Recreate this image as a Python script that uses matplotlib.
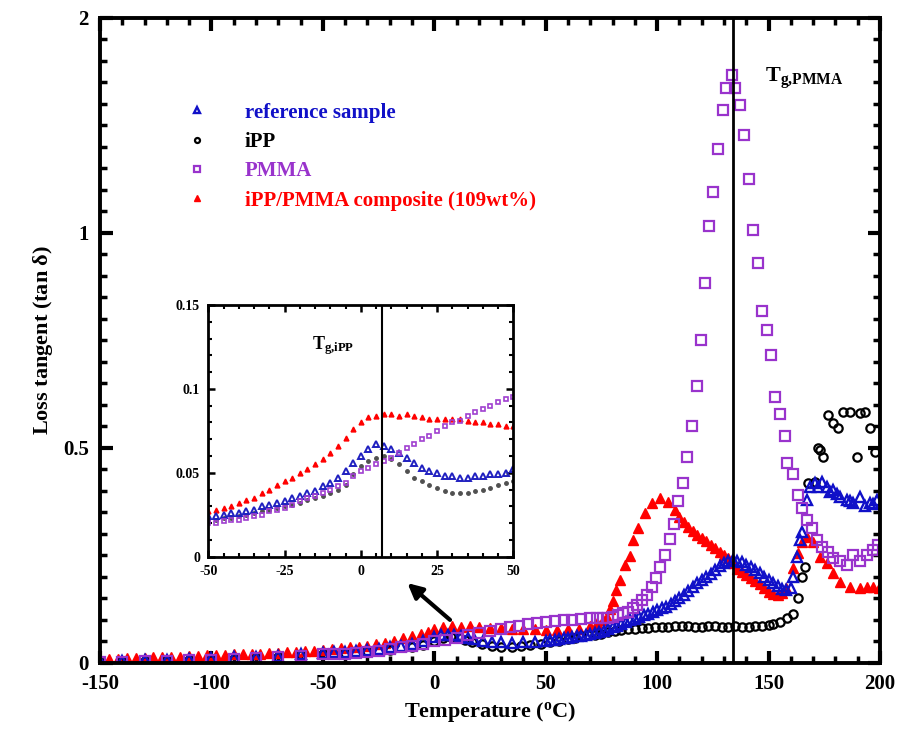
import matplotlib
matplotlib.use("Agg")
import matplotlib.pyplot as plt
from matplotlib.ticker import MultipleLocator

plt.rcParams['font.family'] = ['Liberation Serif', 'DejaVu Serif']
plt.rcParams['font.weight'] = 'bold'
plt.rcParams['axes.unicode_minus'] = False
plt.rcParams['mathtext.fontset'] = 'custom'
plt.rcParams['mathtext.rm'] = 'Liberation Serif:bold'
plt.rcParams['mathtext.bf'] = 'Liberation Serif:bold'
plt.rcParams['mathtext.it'] = 'Liberation Serif:bold'

# ---- main plot data ----
ref_T = [-150, -140, -130, -120, -110, -100, -90, -80, -70, -60, -50, -45, -40, -35, -30, -25, -20, -15,
         -10, -5, 0, 3, 6, 9, 12, 15, 18, 22, 26, 30, 35, 40, 45, 50, 52, 54, 56, 58, 60, 62, 64, 66, 68,
         70, 72, 74, 76, 78, 80, 82, 84, 86, 88, 90, 92, 94, 96, 98, 100, 102, 104, 106, 108, 110, 112, 114,
         116, 118, 120, 122, 124, 126, 128, 130, 132, 134, 136, 138, 140, 142, 144, 146, 148, 150, 152,
         154, 156, 158, 160, 161.1, 162.6, 164.1, 164.8, 167.1, 168.6, 170.8, 172, 173.8, 176.1, 177.5,
         179.0, 180.5, 182.1, 185.0, 186.5, 188.0, 191.0, 193.3, 195.5, 197, 198.5]
ref_tan = [0.004, 0.005, 0.006, 0.008, 0.010, 0.012, 0.013, 0.015, 0.017, 0.020, 0.023, 0.025, 0.026, 0.028,
           0.030, 0.033, 0.036, 0.039, 0.044, 0.051, 0.060, 0.065, 0.066, 0.065, 0.062, 0.058, 0.055, 0.052,
           0.049, 0.048, 0.047, 0.048, 0.049, 0.052, 0.053, 0.054, 0.056, 0.057, 0.058, 0.060, 0.062, 0.063,
           0.065, 0.067, 0.070, 0.072, 0.075, 0.079, 0.083, 0.087, 0.091, 0.095, 0.099, 0.103, 0.107, 0.111,
           0.115, 0.119, 0.123, 0.127, 0.131, 0.137, 0.143, 0.150, 0.158, 0.167, 0.176, 0.185, 0.193, 0.200,
           0.208, 0.217, 0.225, 0.232, 0.237, 0.240, 0.238, 0.234, 0.228, 0.223, 0.216, 0.209, 0.201, 0.193,
           0.185, 0.178, 0.172, 0.169, 0.175, 0.201, 0.247, 0.286, 0.305, 0.379, 0.410, 0.418, 0.410, 0.422,
           0.410, 0.398, 0.402, 0.392, 0.387, 0.379, 0.376, 0.371, 0.387, 0.364, 0.371, 0.369, 0.379]

ipp_T = [-150, -140, -130, -120, -110, -100, -90, -80, -70, -60, -50, -40, -30, -20, -10, -5, 0, 4, 7.4, 11,
         14, 17, 21.6, 26, 30, 35, 39, 43, 48, 52, 56, 60, 63, 66, 69, 72, 75, 78, 81, 84, 87, 90, 93, 96,
         99, 102, 105, 108, 111, 114, 117, 120, 123, 126, 129, 132, 135, 138, 141, 144, 147, 150, 152,
         155.1, 158.1, 161.1, 163.3, 164.8, 166.3, 167.8, 170.8, 172.3, 173.0, 174.6, 176.8, 179.0, 181.3,
         183.5, 186.5, 189.5, 191.0, 193.3, 195.5, 197.8]
ipp_tan = [0.003, 0.004, 0.005, 0.006, 0.007, 0.008, 0.010, 0.012, 0.015, 0.018, 0.022, 0.024, 0.027, 0.031,
           0.037, 0.042, 0.052, 0.058, 0.060, 0.057, 0.053, 0.048, 0.043, 0.040, 0.038, 0.038, 0.040, 0.042,
           0.045, 0.049, 0.052, 0.056, 0.059, 0.062, 0.064, 0.065, 0.068, 0.071, 0.074, 0.077, 0.079, 0.080,
           0.081, 0.082, 0.083, 0.084, 0.084, 0.085, 0.086, 0.085, 0.084, 0.084, 0.085, 0.085, 0.083, 0.084,
           0.085, 0.084, 0.084, 0.086, 0.086, 0.088, 0.090, 0.096, 0.104, 0.114, 0.150, 0.201, 0.224, 0.418,
           0.422, 0.499, 0.495, 0.480, 0.577, 0.557, 0.546, 0.584, 0.584, 0.480, 0.581, 0.584, 0.546, 0.491]

pmma_T = [-150, -140, -130, -120, -110, -100, -90, -80, -70, -60, -50, -45, -40, -35, -30, -25, -20, -15,
          -10, -5, 0, 5, 10, 15, 20, 25, 30, 34, 38, 42, 46, 50, 54, 58, 62, 66, 70, 73, 75.8, 78.1, 80.3,
          82.6, 84.8, 87.1, 89.3, 91.1, 93.1, 95.3, 97.6, 99.5, 101.3, 103.6, 105.8, 107.6, 109.5, 111.8,
          113.5, 115.5, 117.7, 119.5, 121.5, 123.4, 125.2, 127.4, 129.4, 130.9, 133.4, 134.9, 137.2, 139.0,
          141.3, 143.1, 145.4, 146.9, 149.4, 150.9, 152.9, 155.1, 157.4, 158.4, 161.1, 163.1, 164.8, 167.1,
          169.3, 171.6, 173.8, 176.8, 179.0, 182.1, 185.0, 188.0, 191.0, 194.0, 197.0, 199.2]
pmma_tan = [0.002, 0.003, 0.004, 0.005, 0.006, 0.008, 0.010, 0.012, 0.014, 0.017, 0.020, 0.021, 0.022, 0.024,
            0.026, 0.029, 0.032, 0.036, 0.040, 0.044, 0.050, 0.054, 0.058, 0.064, 0.069, 0.074, 0.079, 0.083,
            0.087, 0.090, 0.093, 0.095, 0.097, 0.099, 0.101, 0.103, 0.105, 0.104, 0.104, 0.104, 0.108, 0.112,
            0.116, 0.119, 0.127, 0.135, 0.147, 0.158, 0.177, 0.197, 0.223, 0.251, 0.288, 0.323, 0.377, 0.418,
            0.478, 0.552, 0.644, 0.751, 0.884, 1.016, 1.096, 1.195, 1.286, 1.337, 1.367, 1.337, 1.298, 1.227,
            1.126, 1.007, 0.930, 0.819, 0.774, 0.717, 0.618, 0.579, 0.528, 0.464, 0.440, 0.391, 0.360, 0.333,
            0.313, 0.286, 0.270, 0.259, 0.243, 0.236, 0.228, 0.251, 0.236, 0.251, 0.263, 0.274]

comp_T = [-150, -146, -142, -138, -134, -130, -126, -122, -118, -114, -110, -106, -102, -98, -94, -90, -86,
          -82, -78, -74, -70, -66, -62, -58, -54, -50, -46, -42, -38, -34, -30, -26, -22, -18, -14, -10, -6,
          -3, 0, 4, 8, 12, 16, 20, 25, 30, 35, 40, 45, 50, 55, 60, 65, 70, 73, 75.5, 77.4, 78.8, 80.0, 81.6,
          83.3, 85.6, 87.8, 89.3, 91.5, 94.5, 97.5, 101.3, 105.0, 108, 110, 112, 114, 116, 118, 120, 122, 124,
          126, 128, 130, 132, 134, 136, 138, 140, 142, 144, 146, 148, 150, 152, 154, 156, 158, 161.1, 163.3,
          164.8, 167.1, 170.1, 173.1, 176.1, 179.0, 182.1, 186.5, 191.0, 194, 197.0, 199.5]
comp_tan = [0.008, 0.009, 0.010, 0.011, 0.011, 0.012, 0.013, 0.014, 0.015, 0.015, 0.016, 0.017, 0.018, 0.019,
            0.019, 0.020, 0.021, 0.022, 0.022, 0.023, 0.024, 0.025, 0.026, 0.028, 0.029, 0.031, 0.032, 0.034,
            0.036, 0.038, 0.040, 0.043, 0.047, 0.052, 0.057, 0.062, 0.068, 0.073, 0.078, 0.083, 0.085, 0.084,
            0.085, 0.083, 0.082, 0.081, 0.080, 0.079, 0.078, 0.077, 0.077, 0.078, 0.080, 0.085, 0.092, 0.100,
            0.108, 0.125, 0.145, 0.170, 0.193, 0.228, 0.249, 0.286, 0.313, 0.348, 0.371, 0.383, 0.375, 0.356,
            0.340, 0.328, 0.317, 0.306, 0.297, 0.290, 0.284, 0.275, 0.267, 0.259, 0.251, 0.243, 0.233, 0.219,
            0.211, 0.204, 0.197, 0.190, 0.183, 0.175, 0.166, 0.160, 0.157, 0.162, 0.175, 0.220, 0.255, 0.282,
            0.294, 0.282, 0.247, 0.232, 0.209, 0.189, 0.177, 0.174, 0.176, 0.177, 0.175]

# ---- inset data (-50 .. 50 C) ----
in_T = [-50, -47.5, -45, -42.5, -40, -37.5, -35, -32.5, -30, -27.5, -25, -22.5, -20, -17.5, -15, -12.5, -10,
        -7.5, -5, -2.5, 0, 2.5, 5, 7.5, 10, 12.5, 15, 17.5, 20, 22.5, 25, 27.5, 30, 32.5, 35, 37.5, 40, 42.5,
        45, 47.5, 50]
in_comp = [0.027, 0.028, 0.029, 0.030, 0.032, 0.034, 0.035, 0.038, 0.040, 0.043, 0.045, 0.047, 0.050, 0.052,
           0.055, 0.058, 0.062, 0.066, 0.071, 0.076, 0.080, 0.083, 0.084, 0.085, 0.085, 0.084, 0.085, 0.084,
           0.083, 0.082, 0.082, 0.082, 0.082, 0.082, 0.081, 0.080, 0.080, 0.079, 0.079, 0.078, 0.078]
in_ref = [0.024, 0.024, 0.025, 0.026, 0.026, 0.027, 0.028, 0.030, 0.031, 0.032, 0.033, 0.035, 0.036, 0.038,
          0.039, 0.042, 0.044, 0.047, 0.051, 0.056, 0.060, 0.064, 0.067, 0.066, 0.064, 0.062, 0.059, 0.056,
          0.053, 0.051, 0.050, 0.048, 0.048, 0.047, 0.047, 0.048, 0.048, 0.049, 0.049, 0.050, 0.052]
in_pmma = [0.020, 0.020, 0.021, 0.022, 0.022, 0.023, 0.024, 0.025, 0.027, 0.028, 0.029, 0.031, 0.033, 0.035,
           0.036, 0.038, 0.040, 0.042, 0.044, 0.048, 0.051, 0.053, 0.055, 0.057, 0.059, 0.062, 0.065, 0.067,
           0.070, 0.072, 0.075, 0.078, 0.080, 0.081, 0.084, 0.086, 0.088, 0.090, 0.092, 0.094, 0.095]
in_ipp = [0.022, 0.022, 0.023, 0.023, 0.024, 0.025, 0.026, 0.027, 0.028, 0.029, 0.030, 0.031, 0.032, 0.034,
          0.035, 0.036, 0.038, 0.040, 0.043, 0.049, 0.054, 0.057, 0.059, 0.060, 0.058, 0.055, 0.051, 0.047,
          0.045, 0.043, 0.041, 0.039, 0.038, 0.038, 0.038, 0.039, 0.040, 0.041, 0.043, 0.044, 0.045]

labels = ['reference sample', 'iPP', 'PMMA', 'iPP/PMMA composite (109wt%)']
blue, purple, red = '#1010c8', '#9933cc', '#ff0000'

fig = plt.figure(figsize=(9, 7.43), dpi=100)
ax = fig.add_axes([0.1111, 0.1077, 0.8667, 0.8681])

h_comp, = ax.plot(comp_T, comp_tan, '^', color=red, ms=7.5, mec=red, ls='none', label=labels[3])
h_ipp, = ax.plot(ipp_T, ipp_tan, 'o', color='black', mfc='none', ms=6, mew=1.6, ls='none', label=labels[1])
h_ref, = ax.plot(ref_T, ref_tan, '^', color=blue, mfc='none', ms=6.5, mew=1.7, ls='none', label=labels[0])
h_pmma, = ax.plot(pmma_T, pmma_tan, 's', color=purple, mfc='none', ms=7, mew=1.6, ls='none', label=labels[2])

ax.axvline(134, color='black', lw=2)

ax.set_xlim(-150, 200)
ax.set_ylim(0, 1.5)
ax.set_xticks([-150, -100, -50, 0, 50, 100, 150, 200])
ax.set_yticks([0, 0.5, 1, 1.5])
ax.set_yticklabels(['0', '0.5', '1', '2'])
ax.xaxis.set_minor_locator(MultipleLocator(10))
ax.yaxis.set_minor_locator(MultipleLocator(0.05))
ax.tick_params(which='both', direction='in', top=True, right=True, labelsize=15, pad=8)
ax.tick_params(which='major', length=9, width=3)
ax.tick_params(which='minor', length=5, width=2.5)
for s in ax.spines.values():
    s.set_linewidth(2.8)

ax.set_xlabel(r'Temperature ($^{\mathbf{o}}$C)', fontsize=16, fontweight='bold', labelpad=4)
ax.set_ylabel(r'Loss tangent (tan $\mathbf{\delta}$)', fontsize=16, fontweight='bold', labelpad=6)

ax.text(148.5, 1.36, r'$\mathbf{T_{g{,}PMMA}}$', fontsize=16, ha='left', va='center')

leg = fig.legend(handles=[h_ref, h_ipp, h_pmma, h_comp], labels=labels, loc='upper left',
                 bbox_to_anchor=(0.207, 0.862), frameon=False, markerscale=0.6,
                 handlelength=1.0, handletextpad=1.8, labelspacing=0.45, borderpad=0, borderaxespad=0,
                 labelcolor='linecolor', prop={'weight': 'bold', 'size': 15})

ax.annotate('', xy=(-13, 0.19), xytext=(8, 0.096),
            arrowprops=dict(arrowstyle='-|>', color='black', lw=3, mutation_scale=22))

# ---- inset ----
ins = fig.add_axes([0.2314, 0.2507, 0.3389, 0.3388])
ins.plot(in_T, in_comp, '^', color=red, ms=3.5, ls='none')
ins.plot(in_T, in_ipp, 'o', color='#505050', ms=2.5, ls='none')
ins.plot(in_T, in_ref, '^', color='#2020c0', mfc='none', ms=4, mew=1.4, ls='none')
ins.plot(in_T, in_pmma, 's', color='#a040d0', mfc='none', ms=3.5, mew=1.2, ls='none')
ins.axvline(7, color='black', lw=1.5)
ins.set_xlim(-50, 50)
ins.set_ylim(0, 0.15)
ins.set_xticks([-50, -25, 0, 25, 50])
ins.set_yticks([0, 0.05, 0.1, 0.15])
ins.set_yticklabels(['0', '0.05', '0.1', '0.15'])
ins.xaxis.set_minor_locator(MultipleLocator(5))
ins.yaxis.set_minor_locator(MultipleLocator(0.01))
ins.tick_params(which='both', direction='in', top=True, right=True, labelsize=10, pad=6)
ins.tick_params(which='major', length=5, width=1.8)
ins.tick_params(which='minor', length=3, width=1.5)
for s in ins.spines.values():
    s.set_linewidth(2)
ins.text(-16, 0.126, r'$\mathbf{T_{g{,}iPP}}$', fontsize=13, ha='left', va='center')

fig.savefig('out.png', dpi=100)
